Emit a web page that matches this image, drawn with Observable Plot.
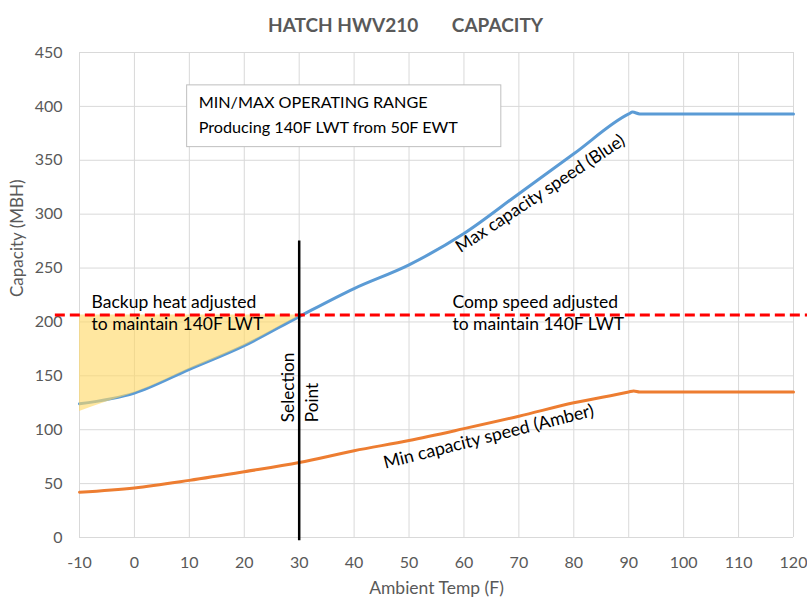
<!DOCTYPE html>
<html>
<head>
<meta charset="utf-8">
<script src="https://cdn.jsdelivr.net/npm/d3@7"></script>
<script src="https://cdn.jsdelivr.net/npm/@observablehq/plot@0.6"></script>
<style>
  html, body { margin: 0; padding: 0; background: #fff; }
  #chart svg { font-family: Lato, "Open Sans", sans-serif; }
</style>
</head>
<body>
<div id="chart"></div>
<script>
// ---- data ----
const xTicks = [-10, 0, 10, 20, 30, 40, 50, 60, 70, 80, 90, 100, 110, 120];
const yTicks = [0, 50, 100, 150, 200, 250, 300, 350, 400, 450];

const maxTemp = [-10, 0, 10, 20, 30, 40, 50, 60, 70, 80, 90, 90.7, 92, 100, 110, 120];
const maxCap  = [124, 134, 156, 178, 205, 231, 253, 282, 319, 356, 393, 394.7, 393, 393, 393, 393];

const minTemp = [-10, 0, 10, 20, 30, 40, 50, 60, 70, 80, 90, 90.9, 92, 100, 110, 120];
const minCap  = [42, 46, 53, 61, 69.5, 80.5, 90, 101, 112.5, 125, 135, 136, 135, 135, 135, 135];

const backupTemp = [-10, -5, 0, 10, 20, 30, 30.6];
const backupLow  = [117, 126, 134, 156, 178, 205, 206.5];

const lwtCapacity = 206.5;
const selectionTemp = 30;

const maxData = maxTemp.map((t, i) => ({t, c: maxCap[i]}));
const minData = minTemp.map((t, i) => ({t, c: minCap[i]}));
const backupData = backupTemp.map((t, i) => ({t, lo: backupLow[i], hi: lwtCapacity}));

const grid = "#D9D9D9";
const tickColor = "#595959";

const chart = Plot.plot({
  width: 807,
  height: 599,
  marginLeft: 79,
  marginRight: 14,
  marginTop: 52,
  marginBottom: 62,
  style: {fontSize: "16px", fontFamily: "Lato, 'Open Sans', sans-serif", background: "#fff"},
  x: {domain: [-10, 120], ticks: xTicks, label: null},
  y: {domain: [0, 450], ticks: yTicks, label: null},
  marks: [
    Plot.gridX(xTicks, {stroke: grid, strokeOpacity: 1, strokeWidth: 1}),
    Plot.gridY(yTicks, {stroke: grid, strokeOpacity: 1, strokeWidth: 1}),
    Plot.axisX(xTicks, {tickSize: 0, tickPadding: 19, fill: tickColor, fontSize: 16, tickFormat: d => String(d)}),
    Plot.axisY(yTicks, {tickSize: 0, tickPadding: 17, fill: tickColor, fontSize: 16, tickFormat: d => String(d)}),
    // annotation box
    Plot.rect([0], {x1: 9.6, x2: 66.8, y1: 362.2, y2: 419.5, fill: "#fff", stroke: "#BFBFBF", strokeWidth: 1}),
    Plot.text(["MIN/MAX OPERATING RANGE"], {x: 11.7, y: 403.4, text: d => d, textAnchor: "start", fontSize: 16.2, fill: "#000"}),
    Plot.text(["Producing 140F LWT from 50F EWT"], {x: 11.7, y: 380.1, text: d => d, textAnchor: "start", fontSize: 16.2, fill: "#000"}),
    // lines
    Plot.line(maxData, {x: "t", y: "c", stroke: "#5B9BD5", strokeWidth: 3, curve: "monotone-x"}),
    Plot.line(minData, {x: "t", y: "c", stroke: "#ED7D31", strokeWidth: 3, curve: "monotone-x"}),
    // backup heat shaded area
    Plot.areaY(backupData, {x: "t", y1: "lo", y2: "hi", fill: "#FFD966", fillOpacity: 0.62, curve: "monotone-x"}),
    // LWT capacity dashed line
    Plot.ruleY([lwtCapacity], {x1: -14.4, x2: 122.6, stroke: "#FF0000", strokeWidth: 3, strokeDasharray: "10,5"}),
    // selection point
    Plot.ruleX([selectionTemp], {y1: -3, y2: 275, stroke: "#000", strokeWidth: 2.5}),
    Plot.text(["Selection"], {x: 28.1, y: 107, text: d => d, rotate: -90, textAnchor: "start", fontSize: 17.2, fill: "#000"}),
    Plot.text(["Point"], {x: 32.4, y: 107, text: d => d, rotate: -90, textAnchor: "start", fontSize: 17.2, fill: "#000"}),
    // curve labels
    Plot.text(["Max capacity speed (Blue)"], {x: 73.9, y: 319, text: d => d, rotate: -33.5, fontSize: 17.5, fill: "#000"}),
    Plot.text(["Min capacity speed (Amber)"], {x: 64.5, y: 93.5, text: d => d, rotate: -14.2, fontSize: 17.8, fill: "#000"}),
    // region labels
    Plot.text(["Backup heat adjusted"], {x: -7.8, y: 218, text: d => d, textAnchor: "start", fontSize: 17.5, fill: "#000"}),
    Plot.text(["to maintain 140F LWT"], {x: -7.8, y: 197.6, text: d => d, textAnchor: "start", fontSize: 17.5, fill: "#000"}),
    Plot.text(["Comp speed adjusted"], {x: 57.9, y: 218, text: d => d, textAnchor: "start", fontSize: 17.5, fill: "#000"}),
    Plot.text(["to maintain 140F LWT"], {x: 57.9, y: 197.6, text: d => d, textAnchor: "start", fontSize: 17.5, fill: "#000"}),
    // title
    Plot.text(["HATCH HWV210"], {x: 38.0, frameAnchor: "top", dy: -34, text: d => d, fontSize: 19, fontWeight: "bold", fill: tickColor}),
    Plot.text(["CAPACITY"], {x: 66.1, frameAnchor: "top", dy: -34, text: d => d, fontSize: 19, fontWeight: "bold", fill: tickColor}),
    // axis titles
    Plot.text(["Capacity (MBH)"], {frameAnchor: "left", dx: -62, dy: 2, rotate: -90, text: d => d, fontSize: 17, fill: tickColor}),
    Plot.text(["Ambient Temp (F)"], {frameAnchor: "bottom", dy: 56, text: d => d, fontSize: 17.5, fill: tickColor})
  ]
});
document.getElementById("chart").appendChild(chart);
</script>
</body>
</html>
